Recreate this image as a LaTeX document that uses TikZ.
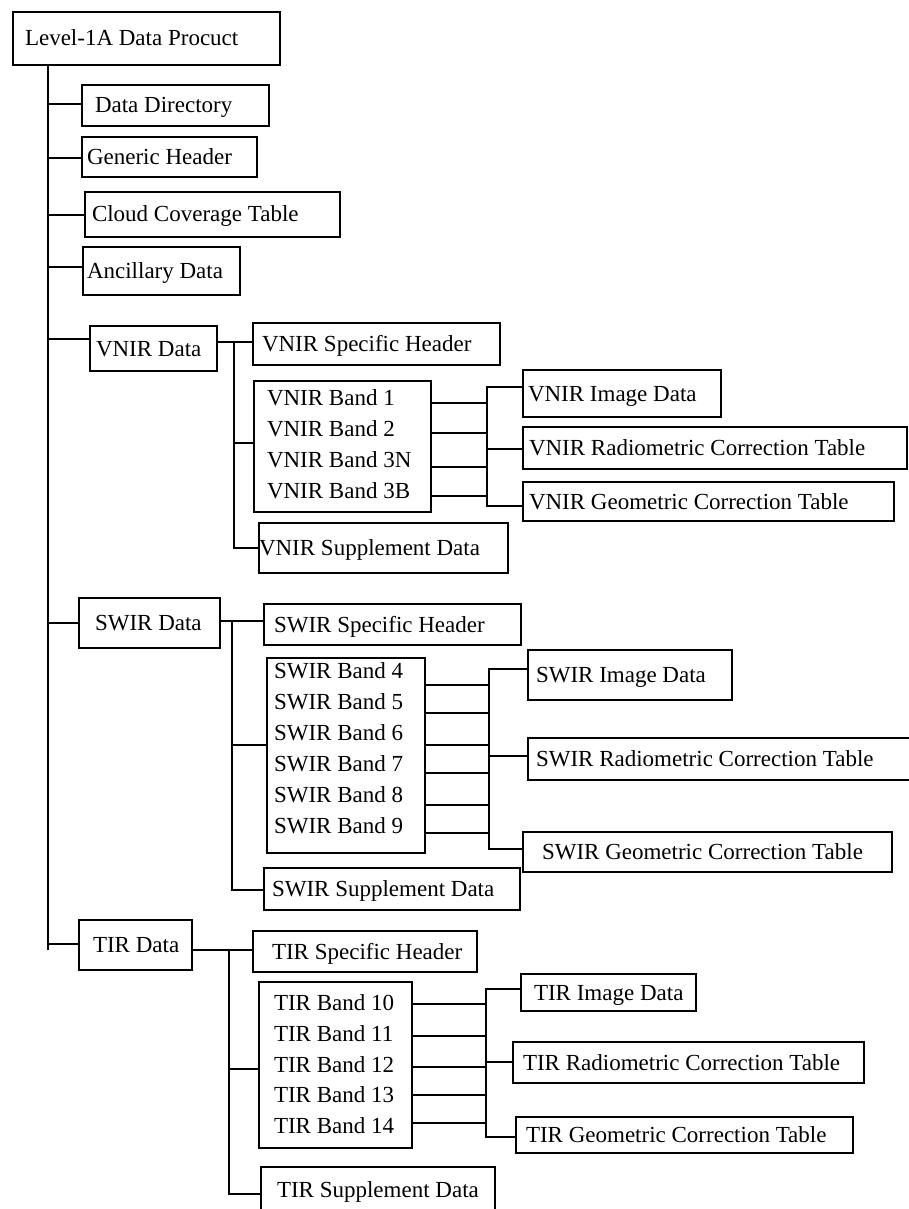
\documentclass[tikz,border=0pt]{standalone}
\usepackage{fontspec}
\setmainfont{Liberation Serif}
\usetikzlibrary{calc}

% box: name, left, top, right, bottom, text inset, caption
\newcommand\bx[7]{%
  \pgfmathsetmacro\bxW{#4-#2}%
  \pgfmathsetmacro\bxH{#5-#3}%
  \node[box, minimum width=\bxW pt, minimum height=\bxH pt] (#1) at (#2,#3) {};
  \node[lbl] (#1-t) at ([xshift=#6pt,yshift=-7.5pt]#1.west) {#7};}
% horizontal branch from a bus point to a box
\newcommand\hbr[3]{%
  \coordinate (#1) at (#2);
  \draw (#1) -- (#1 -| #3);}

\begin{document}
\begin{tikzpicture}[x=1pt, y=-1pt,
  font=\fontsize{23pt}{27pt}\selectfont,
  line width=2.3pt,
  box/.style={draw, line width=2.3pt, anchor=north west, inner sep=0pt, outer sep=0pt},
  lbl/.style={anchor=base west, inner sep=0pt, outer sep=0pt},
  row/.style={anchor=base west, inner sep=0pt, outer sep=0pt}]
\useasboundingbox (0,0) rectangle (909,1209);

% ---- top level ----
\bx{root}{13}{12}{280}{65}{12}{Level-1A Data Procuct}
\bx{dd}{82}{85}{269}{126}{13}{Data Directory}
\bx{gh}{82}{137}{257}{177}{5}{Generic Header}
\bx{cc}{85}{192}{340}{237}{7}{Cloud Coverage Table}
\bx{an}{83}{247}{240}{295}{4}{Ancillary Data}
\bx{vnir}{90}{326}{217}{371}{6}{VNIR Data}
\bx{swir}{79}{598}{220}{648}{16}{SWIR Data}
\bx{tir}{79}{920}{192}{970}{14}{TIR Data}

\coordinate (trunkend) at (48,950);
\draw (trunkend |- root.south) -- (trunkend);
\hbr{bdd}{48,104}{dd.west}
\hbr{bgh}{48,158}{gh.west}
\hbr{bcc}{48,215}{cc.west}
\hbr{ban}{48,267}{an.west}
\hbr{bvn}{48,339}{vnir.west}
\hbr{bsw}{48,623}{swir.west}
\hbr{bti}{48,944}{tir.west}

% ---- VNIR ----
\bx{vhdr}{253}{323}{500}{365}{9}{VNIR Specific Header}
\node[box, minimum width=177pt, minimum height=131pt] (vband) at (254,381) {};
\node[row] (vb1) at (267,405) {VNIR Band 1};
\node[row] (vb2) at (267,436) {VNIR Band 2};
\node[row] (vb3) at (267,467) {VNIR Band 3N};
\node[row] (vb4) at (267,498) {VNIR Band 3B};
\bx{vsup}{259}{523}{508}{573}{0}{VNIR Supplement Data}
\bx{vimg}{523}{370}{721}{417}{5}{VNIR Image Data}
\bx{vrad}{523}{427}{907}{469}{6}{VNIR Radiometric Correction Table}
\bx{vgeo}{523}{482}{894}{521}{6}{VNIR Geometric Correction Table}

\coordinate (vj) at (234,342);
\coordinate (vjs) at (234,548);
\draw (vnir.east |- vj) -- (vj -| vhdr.west);
\draw (vj) -- (vjs) -- (vjs -| vsup.west);
\hbr{vjb}{234,443}{vband.west}

\coordinate (vr1) at (487,387);
\coordinate (vr2) at (487,449);
\coordinate (vr3) at (487,506);
\draw (vr1 -| vimg.west) -- (vr1) -- (vr3) -- (vr3 -| vgeo.west);
\draw (vr2) -- (vr2 -| vrad.west);
\foreach \i/\y in {1/403,2/433,3/467,4/496}{
  \coordinate (vl\i) at (487,\y);
  \draw (vl\i -| vband.east) -- (vl\i);}

% ---- SWIR ----
\bx{shdr}{264}{604}{521}{645}{10}{SWIR Specific Header}
\node[box, minimum width=158pt, minimum height=195pt] (sband) at (267,658) {};
\node[row] (sb1) at (274,678) {SWIR Band 4};
\node[row] (sb2) at (274,709) {SWIR Band 5};
\node[row] (sb3) at (274,740) {SWIR Band 6};
\node[row] (sb4) at (274,771) {SWIR Band 7};
\node[row] (sb5) at (274,802) {SWIR Band 8};
\node[row] (sb6) at (274,833) {SWIR Band 9};
\bx{ssup}{264}{868}{520}{910}{8}{SWIR Supplement Data}
\bx{simg}{528}{650}{732}{700}{8}{SWIR Image Data}
\bx{srad}{528}{738}{911}{780}{8}{SWIR Radiometric Correction Table}
\bx{sgeo}{523}{832}{892}{872}{19}{SWIR Geometric Correction Table}

\coordinate (sj) at (232,621);
\coordinate (sjs) at (232,890);
\draw (swir.east |- sj) -- (sj -| shdr.west);
\draw (sj) -- (sjs) -- (sjs -| ssup.west);
\hbr{sjb}{232,745}{sband.west}

\coordinate (sr1) at (489,669);
\coordinate (sr2) at (489,756);
\coordinate (sr3) at (489,849);
\draw (sr1 -| simg.west) -- (sr1) -- (sr3) -- (sr3 -| sgeo.west);
\draw (sr2) -- (sr2 -| srad.west);
\foreach \i/\y in {1/685,2/713,3/745,4/773,5/805,6/833}{
  \coordinate (sl\i) at (489,\y);
  \draw (sl\i -| sband.east) -- (sl\i);}

% ---- TIR ----
\bx{thdr}{253}{931}{477}{972}{19}{TIR Specific Header}
\node[box, minimum width=153pt, minimum height=166pt] (tband) at (259,982) {};
\node[row] (tb1) at (274,1010) {TIR Band 10};
\node[row] (tb2) at (274,1041) {TIR Band 11};
\node[row] (tb3) at (274,1072) {TIR Band 12};
\node[row] (tb4) at (274,1102) {TIR Band 13};
\node[row] (tb5) at (274,1133) {TIR Band 14};
\bx{tsup}{261}{1167}{495}{1212}{16}{TIR Supplement Data}
\bx{timg}{521}{974}{696}{1011}{13}{TIR Image Data}
\bx{trad}{513}{1042}{864}{1083}{10}{TIR Radiometric Correction Table}
\bx{tgeo}{516}{1117}{853}{1153}{10}{TIR Geometric Correction Table}

\coordinate (tj) at (229,950);
\coordinate (tjs) at (229,1194);
\draw (tir.east |- tj) -- (tj -| thdr.west);
\draw (tj) -- (tjs) -- (tjs -| tsup.west);
\hbr{tjb}{229,1069}{tband.west}

\coordinate (tr1) at (486,989);
\coordinate (tr2) at (486,1062);
\coordinate (tr3) at (486,1137);
\draw (tr1 -| timg.west) -- (tr1) -- (tr3) -- (tr3 -| tgeo.west);
\draw (tr2) -- (tr2 -| trad.west);
\foreach \i/\y in {1/1004,2/1036,3/1067,4/1095,5/1123}{
  \coordinate (tl\i) at (486,\y);
  \draw (tl\i -| tband.east) -- (tl\i);}
\end{tikzpicture}
\end{document}
